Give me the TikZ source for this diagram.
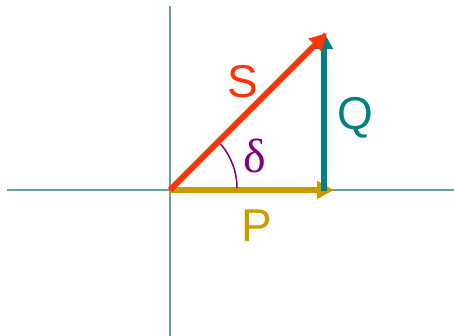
\documentclass[tikz,border=0pt]{standalone}
\usepackage{fontspec}
\setmainfont{Liberation Sans}
\newfontfamily\serifgr{Liberation Serif}
\usetikzlibrary{arrows.meta}
\definecolor{axiscol}{HTML}{6A9E9E}
\definecolor{pcol}{HTML}{CC9900}
\definecolor{qcol}{HTML}{008080}
\definecolor{scol}{HTML}{FF3300}
\definecolor{dcol}{HTML}{800080}
\tikzset{
  axis/.style={draw=axiscol, line width=2pt},
  vec/.style={line width=6pt, -{Triangle[length=17pt,width=17pt]}},
  lbl/.style={font=\fontsize{46}{46}\selectfont, inner sep=0pt}
}
\begin{document}
\begin{tikzpicture}[x=1pt,y=-1pt]
\useasboundingbox (0,0) rectangle (454,336);
\coordinate (O) at (170,190);
\coordinate (L) at (7,190);
\coordinate (R) at (454,190);
\coordinate (T) at (170,6);
\coordinate (B) at (170,336);
\coordinate (Pend) at (334,190);
\coordinate (Qbase) at (324,191);
\coordinate (Qend) at (324,32);
\coordinate (Send) at (327,33);
\draw[axis] (L) -- (R);
\draw[axis] (T) -- (B);
\draw[vec, draw=pcol, fill=pcol] (O) -- (Pend);
\draw[vec, draw=qcol, fill=qcol] (Qbase) -- (Qend);
\draw[vec, draw=scol, fill=scol] (O) -- (Send);
\draw[dcol, line width=1.5pt] (237,188) arc[start angle=0, end angle=-41, radius=67];
\node[lbl, text=scol] (S) at (243,82) {S};
\node[lbl, text=qcol] (Q) at (355,118) {Q};
\node[lbl, text=pcol] (P) at (257,226) {P};
\node[inner sep=0pt, text=dcol, font=\serifgr\fontsize{48}{48}\selectfont] (d) at (255,156) {δ};
\end{tikzpicture}
\end{document}
